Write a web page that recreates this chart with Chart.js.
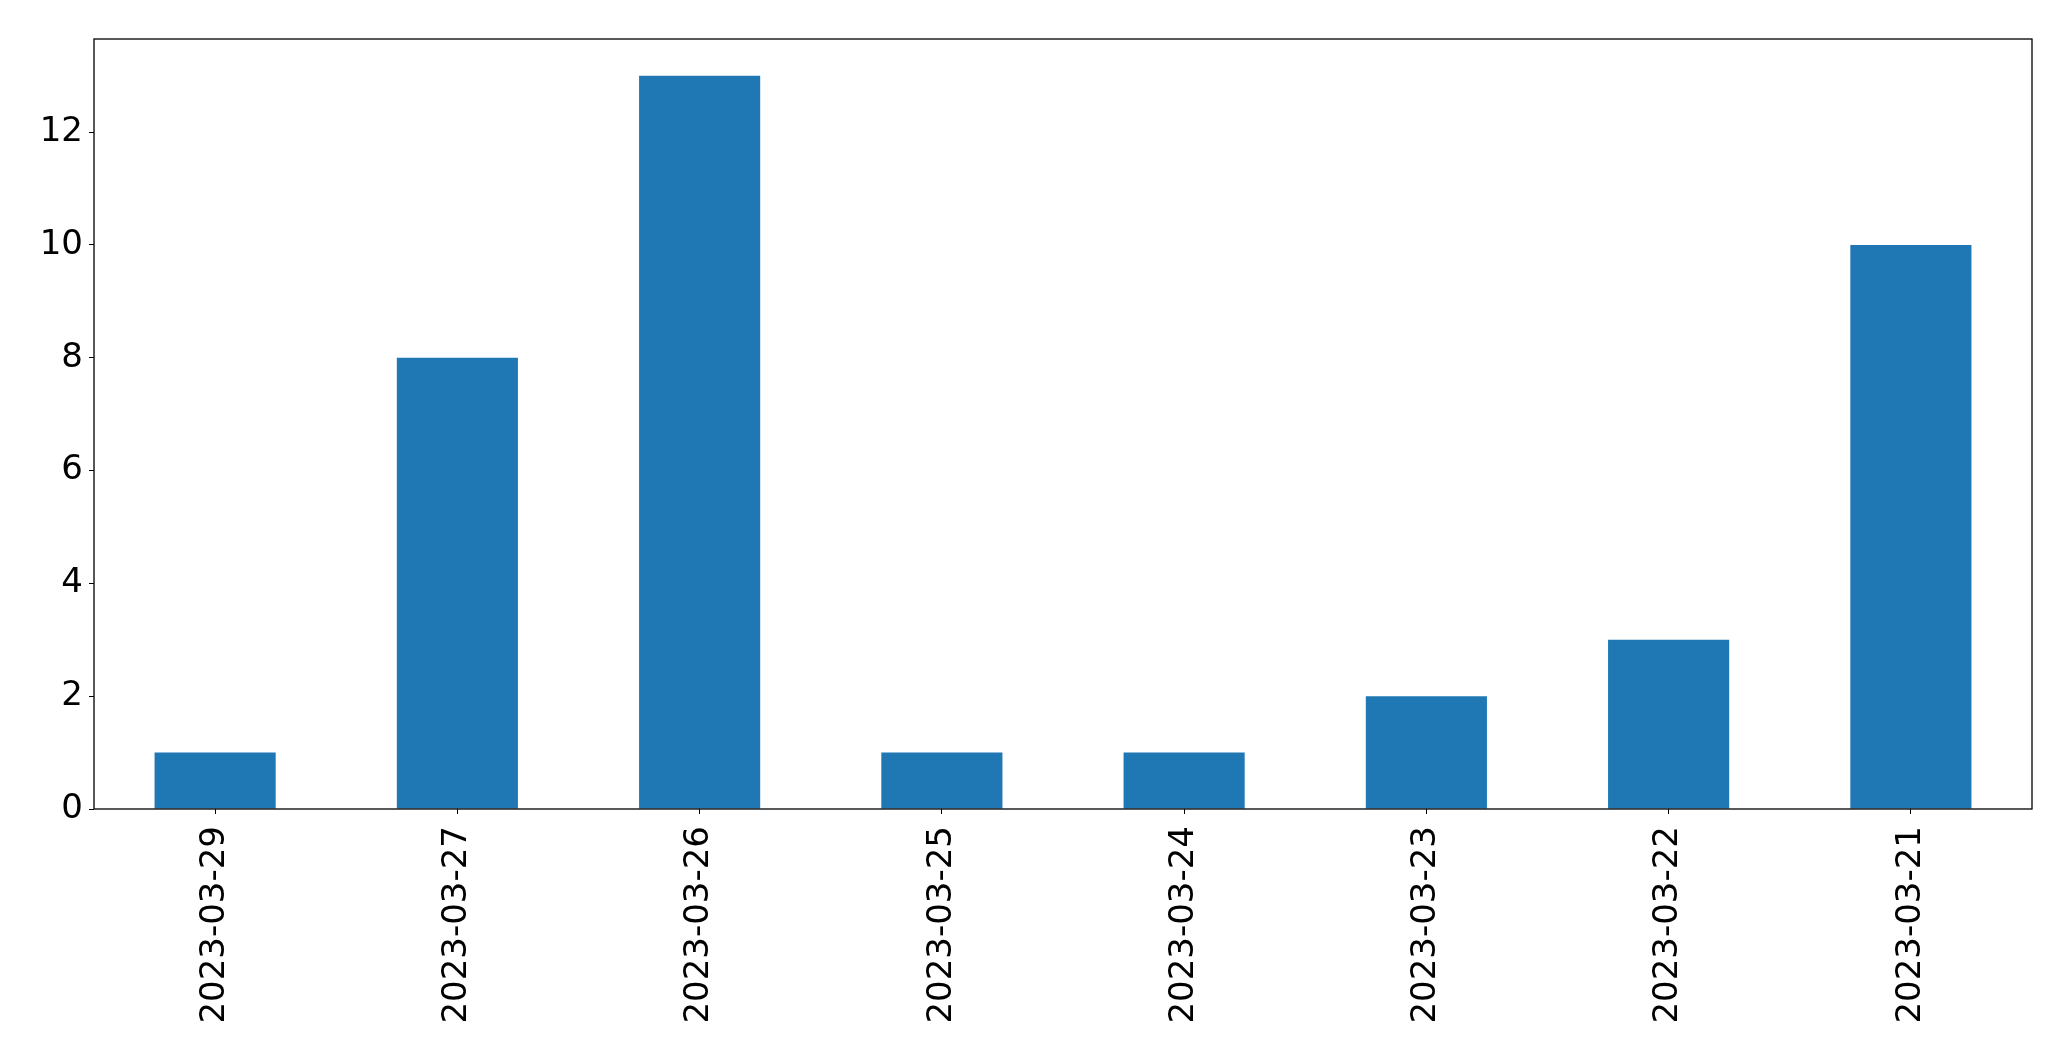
<!DOCTYPE html>
<html>
<head>
<meta charset="utf-8">
<style>
  html, body { margin: 0; padding: 0; background: #fff; }
  #wrap { width: 2071px; height: 1061px; }
</style>
<script src="https://cdn.jsdelivr.net/npm/chart.js@4.4.0/dist/chart.umd.min.js"></script>
</head>
<body>
<div id="wrap"><canvas id="myChart" width="2071" height="1061"></canvas></div>
<script>
const dates = ["2023-03-29", "2023-03-27", "2023-03-26", "2023-03-25", "2023-03-24", "2023-03-23", "2023-03-22", "2023-03-21"];
const counts = [1, 8, 13, 1, 1, 2, 3, 10];
const yTicks = [0, 2, 4, 6, 8, 10, 12];

// black box round the plot, like matplotlib's spines
const frame = {
  id: "frame",
  afterDraw(chart) {
    const { ctx, chartArea: a } = chart;
    ctx.save();
    ctx.strokeStyle = "#000";
    ctx.lineWidth = 1.3;
    ctx.strokeRect(a.left, a.top, a.right - a.left, a.bottom - a.top);
    ctx.restore();
  }
};

const ctx = document.getElementById("myChart").getContext("2d");
const config = {
  type: "bar",
  data: {
    labels: dates,
    datasets: [{
      data: counts,
      backgroundColor: "#1f77b4",
      borderWidth: 0,
      categoryPercentage: 1.0,
      barPercentage: 0.5
    }]
  },
  options: {
    responsive: false,
    animation: false,
    devicePixelRatio: 1,
    layout: { padding: { left: 0, top: 39, right: 39, bottom: 0 } },
    plugins: { legend: { display: false }, tooltip: { enabled: false } },
    scales: {
      x: {
        offset: true,
        grid: { display: true, drawOnChartArea: false, drawTicks: true, tickLength: 5, tickColor: "#000", offset: false },
        border: { display: false },
        ticks: {
          color: "#000",
          font: { family: "DejaVu Sans", size: 34 },
          minRotation: 90,
          maxRotation: 90,
          padding: 12,
          autoSkip: false
        },
        afterFit(scale) { scale.height = 252; }
      },
      y: {
        min: 0,
        max: 13.65,
        grid: { display: true, drawOnChartArea: false, drawTicks: true, tickLength: 5, tickColor: "#000" },
        border: { display: false },
        ticks: {
          color: "#000",
          font: { family: "DejaVu Sans", size: 34 },
          padding: 6
        },
        afterBuildTicks(scale) { scale.ticks = yTicks.map(v => ({ value: v })); },
        afterFit(scale) { scale.width = 94; }
      }
    }
  },
  plugins: [frame]
};

const myChart = new Chart(ctx, config);
</script>
</body>
</html>
